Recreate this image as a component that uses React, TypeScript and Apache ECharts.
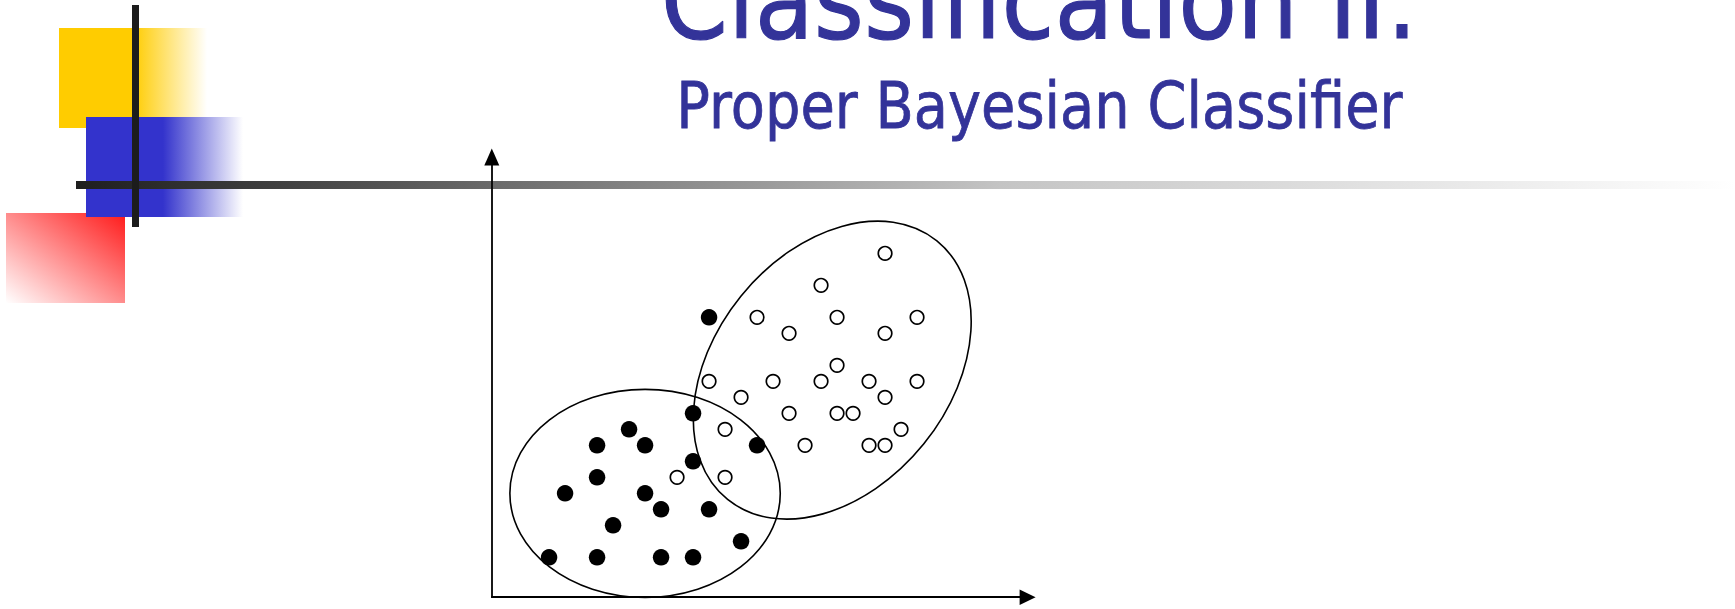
import React, { useEffect, useRef } from "react";
import * as echarts from "echarts";

// ---- data (grid units) ----
const titleText = "Classification II:";
const subtitleText = "Proper Bayesian Classifier";

// filled (black) class points [x, y]
const classFilled: [number, number][] = [
  [10, 15], [9, 9], [5, 8], [3, 7], [6, 7], [13, 7], [9, 6], [3, 5], [1, 4],
  [6, 4], [7, 3], [10, 3], [4, 2], [12, 1], [0, 0], [3, 0], [7, 0], [9, 0],
];

// open (white) class points [x, y]
const classOpen: [number, number][] = [
  [21, 19], [17, 17], [13, 15], [18, 15], [23, 15], [15, 14], [21, 14], [18, 12],
  [10, 11], [14, 11], [17, 11], [20, 11], [23, 11], [12, 10], [21, 10], [15, 9],
  [18, 9], [19, 9], [11, 8], [22, 8], [16, 7], [20, 7], [21, 7], [8, 5], [11, 5],
];

// ellipses: [centerX, centerY, radiusX, radiusY, rotationDeg]
const ellipses: number[][] = [
  [6.0, 4.0, 8.45, 6.5, 0],
  [17.7, 11.7, 10.4, 7.35, 51],
];

const xRange = [-3.58, 29.91];
const yRange = [-2.49, 25.02];

export default function App() {
  const ref = useRef<HTMLDivElement>(null);

  useEffect(() => {
    if (!ref.current) return;
    const chart = echarts.init(ref.current, null, { renderer: "svg" });
    const LG = echarts.graphic.LinearGradient;

    const option: any = {
      animation: false,
      backgroundColor: "#ffffff",
      grid: { left: 491.8, right: 707.4, top: 157, bottom: 11.8 },
      xAxis: {
        type: "value",
        min: xRange[0],
        max: xRange[1],
        z: 10,
        axisLine: {
          show: true,
          onZero: false,
          symbol: ["none", "triangle"],
          symbolSize: [15.5, 16],
          lineStyle: { color: "#000", width: 1.8 },
        },
        axisTick: { show: false },
        axisLabel: { show: false },
        splitLine: { show: false },
      },
      yAxis: {
        type: "value",
        min: yRange[0],
        max: yRange[1],
        z: 10,
        axisLine: {
          show: true,
          onZero: false,
          symbol: ["none", "triangle"],
          symbolSize: [15, 17],
          lineStyle: { color: "#000", width: 1.8 },
        },
        axisTick: { show: false },
        axisLabel: { show: false },
        splitLine: { show: false },
      },
      series: [
        {
          type: "custom",
          z: 11,
          data: ellipses,
          renderItem: (params: any, api: any) => {
            const c = api.coord([api.value(0), api.value(1)]);
            const px = api.coord([api.value(0) + api.value(2), api.value(1)]);
            const py = api.coord([api.value(0), api.value(1) + api.value(3)]);
            const rx = Math.abs(px[0] - c[0]);
            const ry = Math.abs(py[1] - c[1]);
            return {
              type: "ellipse",
              x: c[0],
              y: c[1],
              rotation: (api.value(4) * Math.PI) / 180,
              shape: { cx: 0, cy: 0, rx, ry },
              style: { fill: "none", stroke: "#000", lineWidth: 1.6 },
            };
          },
        },
        {
          type: "scatter",
          z: 12,
          data: classOpen,
          symbol: "circle",
          symbolSize: 13.5,
          itemStyle: { color: "#fff", borderColor: "#000", borderWidth: 1.7, opacity: 1 },
          emphasis: { disabled: true },
        },
        {
          type: "scatter",
          z: 13,
          data: classFilled,
          symbol: "circle",
          symbolSize: 16.5,
          itemStyle: { color: "#000", opacity: 1 },
          emphasis: { disabled: true },
        },
      ],
      graphic: [
        {
          type: "rect",
          z: 1,
          shape: { x: 59, y: 28, width: 148, height: 100 },
          style: {
            fill: new LG(0, 0, 1, 0, [
              { offset: 0, color: "#FFCC00" },
              { offset: 0.5, color: "#FFCC00" },
              { offset: 1, color: "#FFFFFF" },
            ]),
          },
        },
        {
          type: "rect",
          z: 2,
          shape: { x: 6, y: 213, width: 119, height: 90 },
          style: {
            fill: new LG(1, 0, 0, 1, [
              { offset: 0, color: "#FF1A1A" },
              { offset: 1, color: "#FFFFFF" },
            ]),
          },
        },
        {
          type: "rect",
          z: 3,
          shape: { x: 86, y: 117, width: 157, height: 100 },
          style: {
            fill: new LG(0, 0, 1, 0, [
              { offset: 0, color: "#3333CC" },
              { offset: 0.49, color: "#3333CC" },
              { offset: 1, color: "#FFFFFF" },
            ]),
          },
        },
        {
          type: "rect",
          z: 4,
          shape: { x: 76, y: 181, width: 1659, height: 8 },
          style: {
            fill: new LG(0, 0, 1, 0, [
              { offset: 0, color: "#1e1e1e" },
              { offset: 0.135, color: "#444444" },
              { offset: 0.25, color: "#6a6a6a" },
              { offset: 0.557, color: "#c4c4c4" },
              { offset: 1, color: "#ffffff" },
            ]),
          },
        },
        {
          type: "rect",
          z: 5,
          shape: { x: 132, y: 5, width: 7, height: 222 },
          style: { fill: "#1c1c1c" },
        },
        {
          type: "text",
          z: 6,
          x: 660.7,
          y: 0.6,
          scaleX: 0.884,
          style: {
            text: titleText,
            font: '109px "DejaVu Sans"',
            fill: "#333399",
            stroke: "#333399",
            lineWidth: 1.2,
            verticalAlign: "middle",
            align: "left",
          },
        },
        {
          type: "text",
          z: 6,
          x: 676.3,
          y: 105.9,
          scaleX: 0.873,
          style: {
            text: subtitleText,
            font: '64px "DejaVu Sans"',
            fill: "#333399",
            stroke: "#333399",
            lineWidth: 0.8,
            verticalAlign: "middle",
            align: "left",
          },
        },
      ],
    };
    chart.setOption(option);
    return () => chart.dispose();
  }, []);

  return (
    <div
      ref={ref}
      style={{ position: "fixed", left: 0, top: 0, width: 1735, height: 609 }}
    />
  );
}
